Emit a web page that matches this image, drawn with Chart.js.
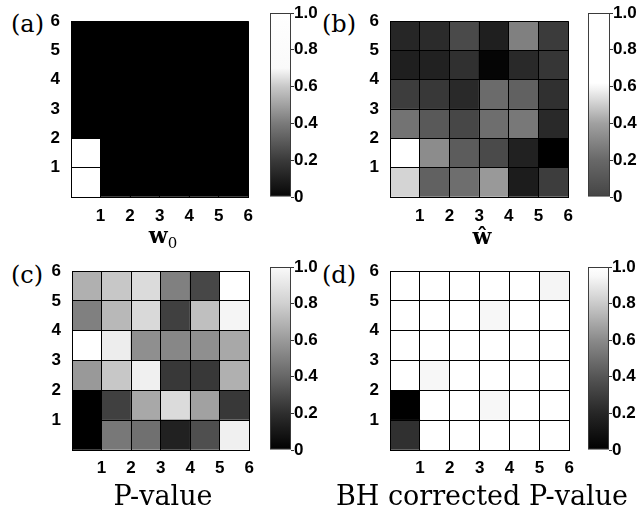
<!DOCTYPE html>
<html>
<head>
<meta charset="utf-8">
<script src="https://cdn.jsdelivr.net/npm/chart.js@4.4.1/dist/chart.umd.min.js"></script>
<style>
  html, body { margin: 0; padding: 0; background: #fff; }
  #fig { position: relative; width: 640px; height: 513px; overflow: hidden; }
  #fig canvas { position: absolute; }
  .tag { position: absolute; font: 24px/24px 'DejaVu Serif', serif; color: #000; }
  .xlab { position: absolute; text-align: center; white-space: nowrap; color: #000; font-family: 'DejaVu Serif', serif; line-height: 1; }
  .xlab.math { font-size: 22px; font-weight: bold; }
  .xlab.math sub { font-size: 15px; font-weight: normal; vertical-align: -5px; line-height: 0; }
  .xlab.word { font-size: 27px; }
</style>
</head>
<body>
<div id="fig">
  <div class="tag" style="left:11px;top:12px">(a)</div>
  <div class="tag" style="left:322px;top:12px">(b)</div>
  <div class="tag" style="left:11px;top:263px">(c)</div>
  <div class="tag" style="left:322px;top:263px">(d)</div>
  <canvas id="heatA" width="262" height="250" style="left:0;top:0"></canvas>
  <canvas id="barA" width="58" height="250" style="left:262px;top:0"></canvas>
  <canvas id="heatB" width="262" height="250" style="left:320px;top:0"></canvas>
  <canvas id="barB" width="58" height="250" style="left:582px;top:0"></canvas>
  <canvas id="heatC" width="262" height="263" style="left:0;top:250px"></canvas>
  <canvas id="barC" width="58" height="263" style="left:262px;top:250px"></canvas>
  <canvas id="heatD" width="262" height="263" style="left:320px;top:250px"></canvas>
  <canvas id="barD" width="58" height="263" style="left:582px;top:250px"></canvas>
  <div class="xlab math" style="left:63px;width:200px;top:224px">w<sub>0</sub></div>
  <div class="xlab math" style="left:382px;width:200px;top:225px">&#x175;</div>
  <div class="xlab word" style="left:13px;width:300px;top:482px">P-value</div>
  <div class="xlab word" style="left:322px;width:320px;top:482px">BH corrected P-value</div>
</div>
<script>
const cols = [1, 2, 3, 4, 5, 6];
const rows = [1, 2, 3, 4, 5, 6];
const axisTicks = [0, 1, 2, 3, 4, 5, 6];
const cbarTicks = [0, 0.2, 0.4, 0.6, 0.8, 1.0];

// cell intensity, 0 = black, 1 = white; rows listed top (6) to bottom (1)
const w0 = [
  [0, 0, 0, 0, 0, 0],
  [0, 0, 0, 0, 0, 0],
  [0, 0, 0, 0, 0, 0],
  [0, 0, 0, 0, 0, 0],
  [1, 0, 0, 0, 0, 0],
  [1, 0, 0, 0, 0, 0]
];
const wHat = [
  [0.15, 0.17, 0.29, 0.12, 0.50, 0.23],
  [0.12, 0.13, 0.19, 0.02, 0.16, 0.21],
  [0.24, 0.22, 0.16, 0.42, 0.38, 0.19],
  [0.45, 0.35, 0.28, 0.43, 0.47, 0.16],
  [1.00, 0.55, 0.36, 0.29, 0.13, 0.00],
  [0.83, 0.38, 0.43, 0.60, 0.11, 0.24]
];
const pValue = [
  [0.69, 0.78, 0.86, 0.50, 0.28, 1.00],
  [0.50, 0.72, 0.85, 0.25, 0.75, 0.96],
  [1.00, 0.93, 0.56, 0.53, 0.56, 0.66],
  [0.60, 0.78, 0.94, 0.22, 0.22, 0.69],
  [0.00, 0.25, 0.66, 0.86, 0.63, 0.22],
  [0.00, 0.47, 0.44, 0.13, 0.31, 0.94]
];
const bhPValue = [
  [1, 1, 1, 1, 1, 0.96],
  [1, 1, 1, 0.97, 1, 1],
  [1, 1, 1, 1, 1, 1],
  [1, 0.97, 1, 1, 1, 1],
  [0, 1, 1, 0.97, 1, 1],
  [0.19, 1, 1, 1, 1, 1]
];

Chart.defaults.color = '#000';
Chart.defaults.font.family = '"Liberation Sans", Arial, sans-serif';
Chart.defaults.font.size = 17;
Chart.defaults.font.weight = 'bold';

function gray(v) {
  const g = Math.round(v * 255);
  return `rgb(${g},${g},${g})`;
}

function heatmap(id, values, box) {
  const cells = [];
  const colors = [];
  values.forEach((row, i) => {
    const r = rows[rows.length - 1 - i];
    row.forEach((v, j) => {
      cells.push({ x: cols[j] - 0.5, y: [r - 1, r] });
      colors.push(gray(v));
    });
  });
  const lines = { color: '#000', lineWidth: 1, drawTicks: false, offset: false, z: 1 };
  return new Chart(document.getElementById(id), {
    type: 'bar',
    data: { datasets: [{ data: cells, backgroundColor: colors, borderWidth: 0, barPercentage: 1, categoryPercentage: 1 }] },
    options: {
      responsive: false,
      animation: false,
      events: [],
      layout: { padding: box.pad },
      plugins: { legend: { display: false }, tooltip: { enabled: false } },
      scales: {
        x: {
          type: 'linear', min: 0, max: cols.length, offset: false,
          afterBuildTicks: (s) => { s.ticks = axisTicks.map((v) => ({ value: v })); },
          afterFit: (s) => { s.height = box.xh; },
          grid: lines,
          border: { color: '#000', z: 1 },
          ticks: { padding: box.tp, maxRotation: 0, callback: (v) => (v === 0 ? '' : v) }
        },
        y: {
          type: 'linear', min: 0, max: rows.length,
          afterBuildTicks: (s) => { s.ticks = axisTicks.map((v) => ({ value: v })); },
          afterFit: (s) => { s.width = 30; },
          grid: lines,
          border: { color: '#000', z: 1 },
          ticks: { padding: 11, callback: (v) => (v === 0 ? '' : v) }
        }
      }
    }
  });
}

function colorbar(id, stops, box) {
  return new Chart(document.getElementById(id), {
    type: 'bar',
    data: {
      labels: [''],
      datasets: [{
        data: [[cbarTicks[0], cbarTicks[cbarTicks.length - 1]]],
        backgroundColor: (ctx) => {
          const area = ctx.chart.chartArea;
          if (!area) return '#888';
          const g = ctx.chart.ctx.createLinearGradient(0, area.bottom, 0, area.top);
          stops.forEach(([p, c]) => g.addColorStop(p, c));
          return g;
        },
        borderColor: '#3a3a3a',
        borderWidth: 1.3,
        borderSkipped: false,
        barPercentage: 1,
        categoryPercentage: 1
      }]
    },
    options: {
      responsive: false,
      animation: false,
      events: [],
      layout: { padding: box.pad },
      plugins: { legend: { display: false }, tooltip: { enabled: false } },
      scales: {
        x: { display: false },
        y: {
          position: 'right', min: 0, max: 1,
          afterBuildTicks: (s) => { s.ticks = cbarTicks.map((v) => ({ value: v })); },
          afterFit: (s) => { s.width = box.yw; },
          grid: { drawOnChartArea: false, drawTicks: true, tickLength: 3, tickColor: '#333' },
          border: { display: false },
          ticks: { padding: 0, callback: (v) => (v === 0 ? '0' : v.toFixed(1)) }
        }
      }
    }
  });
}

heatmap('heatA', w0, { pad: { left: 41, top: 13, right: 7, bottom: 0 }, xh: 53, tp: 9 });
heatmap('heatB', wHat, { pad: { left: 40, top: 13, right: 7, bottom: 0 }, xh: 53, tp: 9 });
heatmap('heatC', pValue, { pad: { left: 42, top: 17, right: 7, bottom: 0 }, xh: 63, tp: 8 });
heatmap('heatD', bhPValue, { pad: { left: 40, top: 17, right: 7.5, bottom: 0 }, xh: 63, tp: 8 });

colorbar('barA', [[0, '#050505'], [0.2, '#3a3a3a'], [0.4, '#7a7a7a'], [0.6, '#c8c8c8'], [0.7, '#fafafa'], [1, '#ffffff']],
  { pad: { left: 8, top: 13, right: 0, bottom: 53 }, yw: 29 });
colorbar('barB', [[0, '#444444'], [0.2, '#686868'], [0.4, '#a0a0a0'], [0.58, '#f0f0f0'], [0.62, '#ffffff'], [1, '#ffffff']],
  { pad: { left: 6, top: 13, right: 0, bottom: 53 }, yw: 30 });
colorbar('barC', [[0, '#000000'], [0.2, '#2e2e2e'], [0.4, '#666666'], [0.6, '#9a9a9a'], [0.8, '#d0d0d0'], [1, '#fafafa']],
  { pad: { left: 8, top: 17, right: 0, bottom: 63 }, yw: 29 });
colorbar('barD', [[0, '#000000'], [0.2, '#262626'], [0.4, '#555555'], [0.6, '#8a8a8a'], [0.8, '#cacaca'], [0.95, '#f8f8f8'], [1, '#ffffff']],
  { pad: { left: 6, top: 17, right: 0, bottom: 63 }, yw: 31 });
</script>
</body>
</html>
